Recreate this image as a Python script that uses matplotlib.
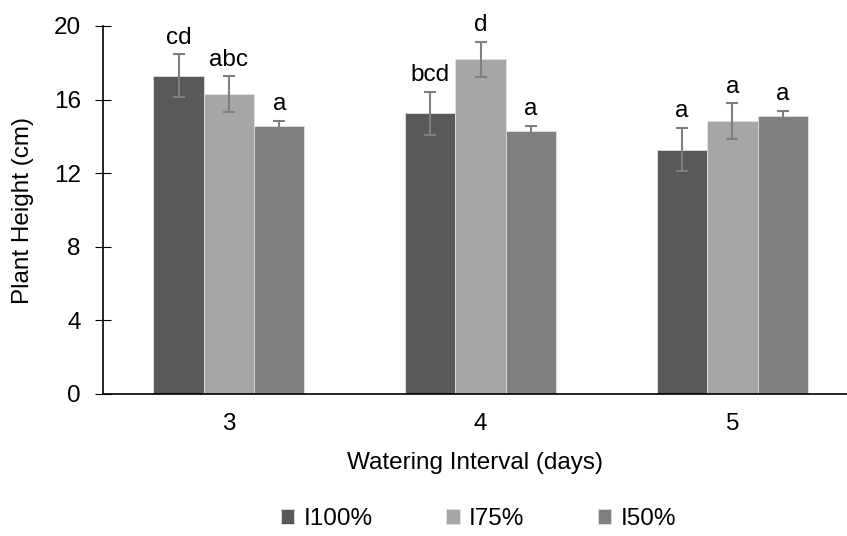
import numpy as np
import matplotlib.pyplot as plt

plt.rcParams['font.family'] = ['Liberation Sans', 'DejaVu Sans']

intervals = ['3', '4', '5']
series = ['I100%', 'I75%', 'I50%']
heights = {
    'I100%': [17.3, 15.25, 13.28],
    'I75%': [16.3, 18.18, 14.83],
    'I50%': [14.56, 14.31, 15.13],
}
errors = {
    'I100%': [1.17, 1.17, 1.18],
    'I75%': [0.97, 0.97, 0.96],
    'I50%': [0.28, 0.26, 0.27],
}
letters = {
    'I100%': ['cd', 'bcd', 'a'],
    'I75%': ['abc', 'd', 'a'],
    'I50%': ['a', 'a', 'a'],
}
colors = ['#595959', '#a6a6a6', '#7f7f7f']
fs = 17.5

fig = plt.figure(figsize=(8.47, 5.36), dpi=100)
ax = fig.add_axes([103 / 847, 142 / 536, 744 / 847, 368 / 536])

x = np.arange(len(intervals))
w = 0.2
for i, s in enumerate(series):
    pos = x + (i - 1) * w
    ax.bar(pos, heights[s], w, color=colors[i], edgecolor='#e0e0e0',
           linewidth=0.6, label=s)
    ax.errorbar(pos, heights[s], yerr=errors[s], fmt='none', ecolor='#7f7f7f',
                elinewidth=1.5, capsize=4, capthick=1.5)
    for p, h, e, t in zip(pos, heights[s], errors[s], letters[s]):
        ax.text(p, h + e + 0.3, t, ha='center', va='bottom', fontsize=fs)

ax.set_xlim(-0.5, 2.455)
ax.set_ylim(0, 20)
ax.set_yticks([0, 4, 8, 12, 16, 20])
ax.set_xticks(x)
ax.set_xticklabels(intervals)
ax.tick_params(axis='x', length=0, labelsize=fs, pad=14)
ax.tick_params(axis='y', direction='inout', length=12, labelsize=fs, pad=10)
for side in ['top', 'right']:
    ax.spines[side].set_visible(False)
ax.spines['left'].set_linewidth(1.2)
ax.spines['bottom'].set_linewidth(1.2)
ax.set_ylabel('Plant Height (cm)', fontsize=fs, labelpad=14)
ax.set_xlabel('Watering Interval (days)', fontsize=fs, labelpad=12)

fig.legend(loc='lower center', bbox_to_anchor=(0.565, -0.03), ncol=3, frameon=False,
           fontsize=fs, handlelength=0.55, handleheight=0.55, handletextpad=0.4,
           columnspacing=3.0)

fig.savefig('out.png', dpi=100)
